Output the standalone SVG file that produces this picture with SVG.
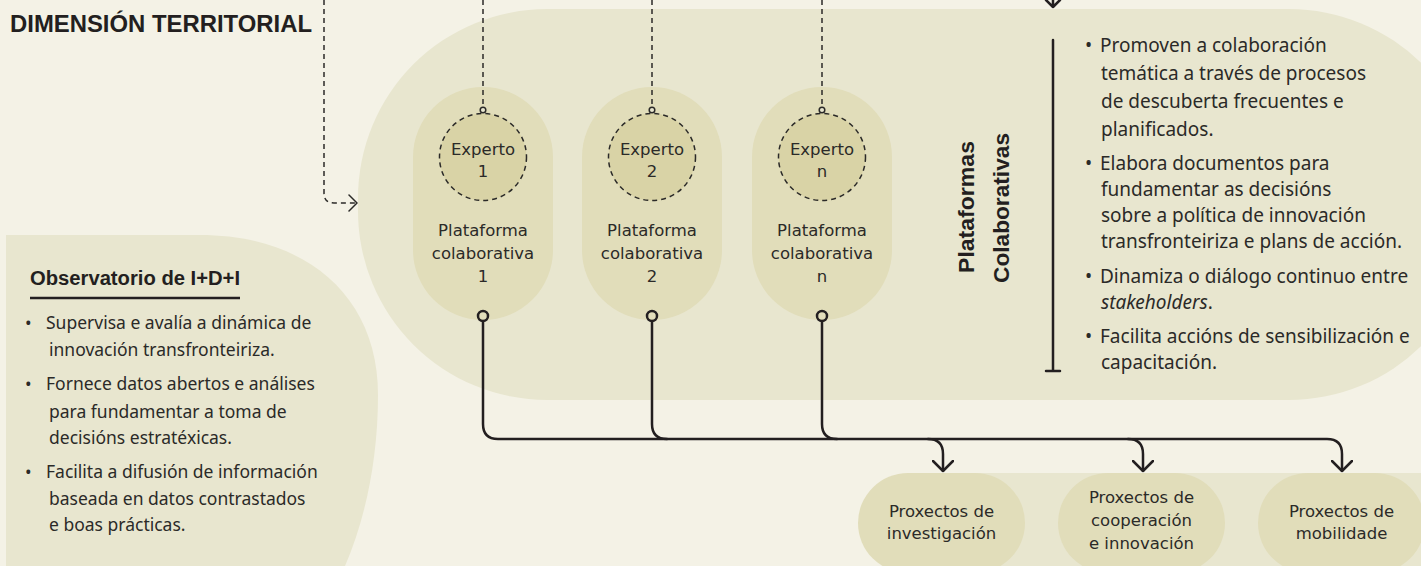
<svg xmlns="http://www.w3.org/2000/svg" width="1421" height="566" viewBox="0 0 1421 566">
<defs>
<style>
.bg{fill:#f4f2e6}
.zone{fill:#e8e6cf}
.pill{fill:#e1ddba}
.exp{fill:#d9d3a6;stroke:#2b2a28;stroke-width:1.5;stroke-dasharray:5 4}
.lbl{font-family:"DejaVu Sans",sans-serif;font-size:16.5px;fill:#2b2a28;text-anchor:middle}
.body{font-family:"Noto Sans",sans-serif;font-size:17.5px;fill:#2b2a28}
.body2{font-family:"Noto Sans",sans-serif;font-size:19px;fill:#2b2a28}
.head{font-family:"Liberation Sans",Arial,sans-serif;font-weight:700;fill:#231f20}
.dash{fill:none;stroke:#2b2a28;stroke-width:1.5;stroke-dasharray:5 4}
.solid{fill:none;stroke:#231f20;stroke-width:2.5;stroke-linecap:round;stroke-linejoin:round}
.dot{fill:#e8e6cf;stroke:#2b2a28;stroke-width:1.5}
.port{fill:#e1ddba;stroke:#231f20;stroke-width:2.5}
</style>
<marker id="arrS" viewBox="0 0 12 22" refX="11" refY="11" markerWidth="12" markerHeight="22" markerUnits="userSpaceOnUse" orient="auto">
<path d="M1,1 L11,11 L1,21" fill="none" stroke="#231f20" stroke-width="2.5" stroke-linecap="round" stroke-linejoin="round"/>
</marker>
<marker id="arrD" viewBox="0 0 10 18" refX="9" refY="9" markerWidth="10" markerHeight="18" markerUnits="userSpaceOnUse" orient="auto">
<path d="M1,1 L9,9 L1,17" fill="none" stroke="#2b2a28" stroke-width="1.5" stroke-linecap="round" stroke-linejoin="round"/>
</marker>
</defs>

<rect class="bg" x="0" y="0" width="1421" height="566"/>

<g id="zone-territorial">
<rect class="zone" x="358" y="9" width="1120" height="391" rx="189" ry="189"/>
<rect class="zone" x="941" y="473" width="480" height="93"/>
</g>

<g id="title">
<text class="head" x="10" y="32" font-size="23" textLength="302" lengthAdjust="spacingAndGlyphs">DIMENSIÓN TERRITORIAL</text>
</g>

<g id="observatorio">
<path class="zone" d="M6,235 H200 C305,235 378,295 378,395 C378,460 365,520 345,566 H6 Z"/>
<text class="head" x="30" y="285" font-size="20" textLength="210" lengthAdjust="spacingAndGlyphs">Observatorio de I+D+I</text>
<line x1="30" y1="298" x2="240" y2="298" stroke="#231f20" stroke-width="2.5"/>
<text class="body" x="25" y="329">•</text>
<text class="body" x="46" y="329">Supervisa e avalía a dinámica de</text>
<text class="body" x="49" y="356">innovación transfronteiriza.</text>
<text class="body" x="25" y="390">•</text>
<text class="body" x="46" y="390">Fornece datos abertos e análises</text>
<text class="body" x="49" y="418">para fundamentar a toma de</text>
<text class="body" x="49" y="444">decisións estratéxicas.</text>
<text class="body" x="25" y="478">•</text>
<text class="body" x="46" y="478">Facilita a difusión de información</text>
<text class="body" x="49" y="505">baseada en datos contrastados</text>
<text class="body" x="49" y="531">e boas prácticas.</text>
</g>

<g id="plataforma-1">
<rect class="pill" x="413" y="87" width="140" height="233" rx="70" ry="70"/>
<circle class="exp" cx="483" cy="157" r="43.5"/>
<text class="lbl" x="483" y="155">Experto</text>
<text class="lbl" x="483" y="177">1</text>
<text class="lbl" x="483" y="236">Plataforma</text>
<text class="lbl" x="483" y="259">colaborativa</text>
<text class="lbl" x="483" y="282">1</text>
</g>

<g id="plataforma-2">
<rect class="pill" x="582" y="87" width="140" height="233" rx="70" ry="70"/>
<circle class="exp" cx="652" cy="157" r="43.5"/>
<text class="lbl" x="652" y="155">Experto</text>
<text class="lbl" x="652" y="177">2</text>
<text class="lbl" x="652" y="236">Plataforma</text>
<text class="lbl" x="652" y="259">colaborativa</text>
<text class="lbl" x="652" y="282">2</text>
</g>

<g id="plataforma-n">
<rect class="pill" x="752" y="87" width="140" height="233" rx="70" ry="70"/>
<circle class="exp" cx="822" cy="157" r="43.5"/>
<text class="lbl" x="822" y="155">Experto</text>
<text class="lbl" x="822" y="177">n</text>
<text class="lbl" x="822" y="236">Plataforma</text>
<text class="lbl" x="822" y="259">colaborativa</text>
<text class="lbl" x="822" y="282">n</text>
</g>

<g id="plataformas-colaborativas">
<text class="head" font-size="22" text-anchor="middle" transform="translate(974,207) rotate(-90)" textLength="132" lengthAdjust="spacingAndGlyphs">Plataformas</text>
<text class="head" font-size="22" text-anchor="middle" transform="translate(1009,208) rotate(-90)" textLength="150" lengthAdjust="spacingAndGlyphs">Colaborativas</text>
<path class="solid" d="M1053,40 V371 M1046,371 H1060" stroke-linecap="butt"/>
<text class="body2" x="1085" y="52">•</text>
<text class="body2" x="1100" y="52">Promoven a colaboración</text>
<text class="body2" x="1101" y="80">temática a través de procesos</text>
<text class="body2" x="1101" y="108">de descuberta frecuentes e</text>
<text class="body2" x="1101" y="136">planificados.</text>
<text class="body2" x="1085" y="170">•</text>
<text class="body2" x="1100" y="170">Elabora documentos para</text>
<text class="body2" x="1101" y="196">fundamentar as decisións</text>
<text class="body2" x="1101" y="222">sobre a política de innovación</text>
<text class="body2" x="1101" y="248">transfronteiriza e plans de acción.</text>
<text class="body2" x="1085" y="283">•</text>
<text class="body2" x="1100" y="283">Dinamiza o diálogo continuo entre</text>
<text class="body2" x="1101" y="309"><tspan font-style="italic">stakeholders</tspan>.</text>
<text class="body2" x="1085" y="343">•</text>
<text class="body2" x="1100" y="343">Facilita accións de sensibilización e</text>
<text class="body2" x="1101" y="369">capacitación.</text>
</g>

<g id="proxectos-investigacion">
<rect class="pill" x="858" y="473" width="167" height="100" rx="50" ry="50"/>
<text class="lbl" x="941.5" y="517">Proxectos de</text>
<text class="lbl" x="941.5" y="539">investigación</text>
</g>

<g id="proxectos-cooperacion">
<rect class="pill" x="1058" y="473" width="167" height="100" rx="50" ry="50"/>
<text class="lbl" x="1141.5" y="503">Proxectos de</text>
<text class="lbl" x="1141.5" y="526">cooperación</text>
<text class="lbl" x="1141.5" y="549">e innovación</text>
</g>

<g id="proxectos-mobilidade">
<rect class="pill" x="1258" y="473" width="167" height="100" rx="50" ry="50"/>
<text class="lbl" x="1341.5" y="517">Proxectos de</text>
<text class="lbl" x="1341.5" y="539">mobilidade</text>
</g>

<g id="connectors">
<path class="dash" d="M324,0 V193 Q324,203 334,203 H357" marker-end="url(#arrD)"/>
<path class="dash" d="M483,0 V107"/>
<path class="dash" d="M652,0 V107"/>
<path class="dash" d="M822,0 V107"/>
<circle class="dot" cx="483" cy="110" r="2.8"/>
<circle class="dot" cx="652" cy="110" r="2.8"/>
<circle class="dot" cx="822" cy="110" r="2.8"/>
<path class="solid" d="M1053,0 V7 M1046,0 L1053,7 L1060,0"/>
<path class="solid" d="M483,321 V424 Q483,439 498,439 H1327 Q1342,439 1342,454 V471" marker-end="url(#arrS)"/>
<path class="solid" d="M652,321 V424 Q652,439 667,439"/>
<path class="solid" d="M822,321 V424 Q822,439 837,439"/>
<path class="solid" d="M928,439 Q943,439 943,454 V471" marker-end="url(#arrS)"/>
<path class="solid" d="M1128,439 Q1143,439 1143,454 V471" marker-end="url(#arrS)"/>
<circle class="port" cx="483" cy="316" r="5"/>
<circle class="port" cx="652" cy="316" r="5"/>
<circle class="port" cx="822" cy="316" r="5"/>
</g>
</svg>
